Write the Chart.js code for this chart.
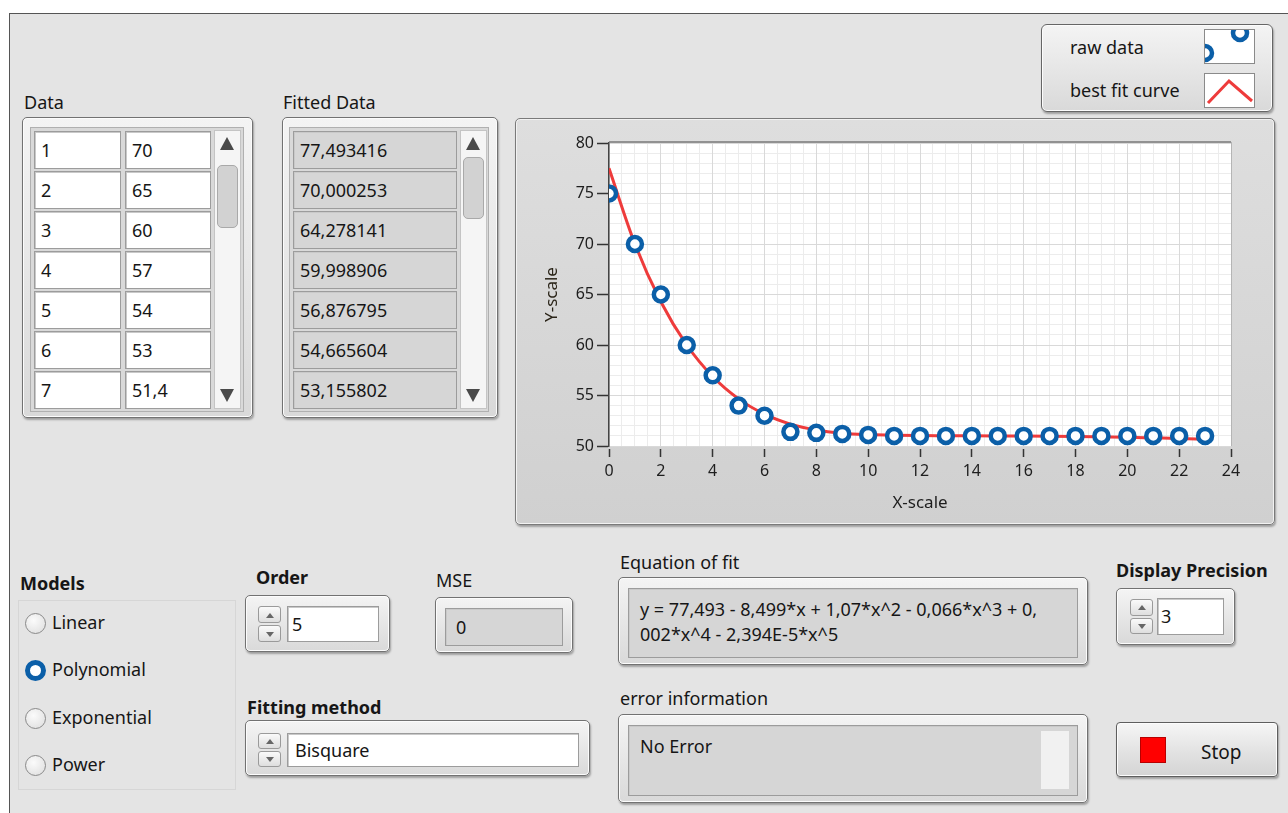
<!DOCTYPE html>
<html>
<head>
<meta charset="utf-8">
<script src="https://cdn.jsdelivr.net/npm/chart.js@4.4.1/dist/chart.umd.min.js"></script>
<style>
html, body { margin: 0; padding: 0; background: #fff; }
body { width: 1288px; height: 813px; overflow: hidden; position: relative; font-family: 'Noto Sans', 'Open Sans', sans-serif; font-size: 18px; color: #161616; }
#panel { position: absolute; left: 9px; top: 13px; width: 1290px; height: 810px; background: #e4e4e4; border-top: 1px solid #555; border-left: 1px solid #555; }
.lbl { position: absolute; white-space: nowrap; line-height: 20px; }
.b { font-weight: bold; }
.frame { position: absolute; box-sizing: border-box; border: 1px solid #727272; border-radius: 5px; background: linear-gradient(#f4f4f4, #d9d9d9); box-shadow: 1px 2px 2px rgba(0,0,0,.3), inset 0 0 0 1px #fcfcfc; }
.field { position: absolute; box-sizing: border-box; background: #fff; border: 1px solid #9c9c9c; box-shadow: inset 1px 1px 0 #c9c9c9; padding-left: 6px; white-space: nowrap; }
.gray { background: #d6d6d6; }
.scroll { position: absolute; box-sizing: border-box; background: #f5f5f5; border: 1px solid #c4c4c4; }
.thumb { position: absolute; box-sizing: border-box; background: #d2d2d2; border: 1px solid #a9a9a9; border-radius: 5px; }
.tri { position: absolute; width: 0; height: 0; }
.spin { position: absolute; box-sizing: border-box; }
.spin div { position: absolute; left: 0; width: 100%; box-sizing: border-box; border: 1px solid #9a9a9a; border-radius: 3px; background: linear-gradient(#fafafa, #dedede); }
.radio { position: absolute; width: 21px; height: 21px; border-radius: 50%; box-sizing: border-box; border: 1px solid #8a8a8a; background: radial-gradient(circle at 40% 35%, #fbfbfb, #dcdcdc); }
.radio.on { border: 5.5px solid #0b5fa8; background: #fff; }
#graph { position: absolute; left: 515px; top: 118px; width: 760px; height: 407px; box-sizing: border-box; border: 1px solid #7a7a7a; border-radius: 5px; background: linear-gradient(#dedede, #d0d0d0); box-shadow: 1px 2px 2px rgba(0,0,0,.3), inset 0 0 0 1px #f2f2f2; }
#wrap { position: absolute; left: 520px; top: 123px; width: 750px; height: 398px; }
</style>
</head>
<body>
<div id="panel"></div>
<div id="ui"></div>
<div id="graph"></div>
<div id="wrap"><canvas id="fit"></canvas></div>

<script>
// valores del gráfico
const xValues = [0, 1, 2, 3, 4, 5, 6, 7, 8, 9, 10, 11, 12, 13, 14, 15, 16, 17, 18, 19, 20, 21, 22, 23];
const rawY = [75, 70, 65, 60, 57, 54, 53, 51.4, 51.3, 51.2, 51.1, 51, 51, 51, 51, 51, 51, 51, 51, 51, 51, 51, 51, 51];
const fitY = [77.493416, 70.000253, 64.278141, 59.998906, 56.876795, 54.665604, 53.155802, 52.17, 51.58, 51.27, 51.13, 51.06, 51.03, 51.02, 51.01, 51.0, 50.99, 50.97, 50.94, 50.9, 50.86, 50.8, 50.74, 50.66];
const xRange = [0, 24];
const yRange = [50, 80];
const xStep = 2;
const yStep = 5;

const modelNames = ['Linear', 'Polynomial', 'Exponential', 'Power'];
const selectedModel = 'Polynomial';
const equationLines = ['y = 77,493 - 8,499*x + 1,07*x^2 - 0,066*x^3 + 0,', '002*x^4 - 2,394E-5*x^5'];

const FONT = "'Noto Sans', 'Open Sans', sans-serif";
let ui = document.getElementById('ui');

function el(cls, l, t, w, h, txt, extra) {
    let d = document.createElement('div');
    d.className = cls;
    d.style.left = l + 'px';
    d.style.top = t + 'px';
    if (w != null) d.style.width = w + 'px';
    if (h != null) { d.style.height = h + 'px'; d.style.lineHeight = (h - 2) + 'px'; }
    if (txt != null) d.textContent = txt;
    if (extra) Object.assign(d.style, extra);
    ui.appendChild(d);
    return d;
}

function triangle(cx, cy, w, h, up, color) {
    let t = el('tri', cx - w / 2, cy - h / 2);
    t.style.borderLeft = (w / 2) + 'px solid transparent';
    t.style.borderRight = (w / 2) + 'px solid transparent';
    if (up) t.style.borderBottom = h + 'px solid ' + color;
    else t.style.borderTop = h + 'px solid ' + color;
}

function spinner(l, t, w, h) {
    let s = el('spin', l, t, w, h);
    s.style.lineHeight = 'normal';
    let half = h / 2;
    let a = document.createElement('div'); a.style.top = '0px'; a.style.height = (half - 1) + 'px';
    let b = document.createElement('div'); b.style.top = (half + 1) + 'px'; b.style.height = (half - 1) + 'px';
    s.appendChild(a); s.appendChild(b);
    triangle(l + w / 2, t + half / 2, 8, 5, true, '#666');
    triangle(l + w / 2, t + half + half / 2 + 1, 8, 5, false, '#666');
}

function scrollbar(l, t, w, h, thumbTop, thumbH) {
    el('scroll', l, t, w, h);
    triangle(l + w / 2, t + 13, 15, 13, true, '#4a4a4a');
    triangle(l + w / 2, t + h - 14, 15, 13, false, '#4a4a4a');
    el('thumb', l + 3, thumbTop, w - 6, thumbH);
}

// --- tabla Data ---
el('lbl', 24, 92, null, null, 'Data');
el('frame', 22, 117, 231, 301);
el('abs', 30, 127, 214, 285, null, { position: 'absolute', background: '#d9d9d9', border: '1px solid #b0b0b0', boxSizing: 'border-box' });
for (let i = 0; i < 7; i++) {
    let top = 131 + 40 * i;
    el('field', 34, top, 87, 38, String(xValues[i + 1]));
    el('field', 125, top, 86, 38, String(rawY[i + 1]).replace('.', ','));
}
scrollbar(214, 130, 27, 279, 165, 63);

// --- tabla Fitted Data ---
el('lbl', 283, 92, null, null, 'Fitted Data');
el('frame', 282, 117, 216, 301);
el('abs', 289, 127, 200, 285, null, { position: 'absolute', background: '#d9d9d9', border: '1px solid #b0b0b0', boxSizing: 'border-box' });
for (let i = 0; i < 7; i++) {
    el('field gray', 293, 131 + 40 * i, 164, 38, fitY[i].toFixed(6).replace('.', ','));
}
scrollbar(460, 130, 27, 279, 157, 62);

// --- leyenda ---
el('frame', 1041, 24, 232, 88, null, { borderRadius: '6px', borderColor: '#666' });
el('lbl', 1070, 37, null, null, 'raw data');
el('lbl', 1070, 80, null, null, 'best fit curve');
let leg = el('abs', 1204, 29, 51, 80, null, { position: 'absolute' });
leg.innerHTML =
    '<svg width="51" height="80" viewBox="0 0 51 80">' +
    '<defs><clipPath id="c1"><rect x="1" y="1" width="49" height="33"/></clipPath></defs>' +
    '<rect x="0.5" y="0.5" width="50" height="34" fill="#fff" stroke="#8a8a8a"/>' +
    '<g clip-path="url(#c1)" fill="none" stroke="#0b5fa8" stroke-width="4.5">' +
    '<circle cx="1" cy="24" r="7"/><circle cx="36" cy="4" r="7"/></g>' +
    '<rect x="0.5" y="44.5" width="50" height="34" fill="#fff" stroke="#8a8a8a"/>' +
    '<polyline points="4,74 25,52 48,72" fill="none" stroke="#ee3b3b" stroke-width="3"/>' +
    '</svg>';

// --- Models ---
el('lbl', 20, 573, null, null, 'Models').classList.add('b');
el('abs', 18, 600, 218, 190, null, { position: 'absolute', border: '1px solid #d6d6d6', boxSizing: 'border-box' });
let radioY = [623, 670, 718, 765];
modelNames.forEach(function (m, i) {
    el('radio' + (m === selectedModel ? ' on' : ''), 25, radioY[i] - 10, 21, 21).style.lineHeight = 'normal';
    el('lbl', 52, radioY[i] - 11, null, null, m);
});

// --- Order ---
el('lbl', 256, 567, null, null, 'Order').classList.add('b');
el('frame', 245, 595, 145, 57);
spinner(258, 606, 23, 36);
el('field', 287, 606, 92, 36, '5', { paddingLeft: '4px' });

// --- MSE ---
el('lbl', 436, 570, null, null, 'MSE');
el('frame', 435, 597, 138, 56);
el('field gray', 445, 608, 118, 38, '0', { paddingLeft: '10px' });

// --- Fitting method ---
el('lbl', 247, 697, null, null, 'Fitting method').classList.add('b');
el('frame', 245, 720, 345, 56);
spinner(258, 733, 23, 34);
el('field', 287, 733, 292, 34, 'Bisquare', { paddingLeft: '7px' });

// --- Equation of fit ---
el('lbl', 620, 552, null, null, 'Equation of fit');
el('frame', 618, 577, 470, 88);
let eq = el('field gray', 628, 588, 450, 70, null, { lineHeight: '25px', paddingLeft: '11px', paddingTop: '8px' });
eq.innerHTML = equationLines.join('<br>');

// --- error information ---
el('lbl', 620, 688, null, null, 'error information');
el('frame', 618, 714, 470, 89);
el('field gray', 628, 725, 450, 71, 'No Error', { lineHeight: '22px', paddingLeft: '11px', paddingTop: '9px' });
el('abs', 1041, 731, 28, 58, null, { position: 'absolute', background: '#f1f1f1' });

// --- Display Precision ---
el('lbl', 1116, 560, null, null, 'Display Precision').classList.add('b');
el('frame', 1116, 588, 119, 57);
spinner(1130, 599, 23, 35);
el('field', 1157, 598, 67, 37, '3', { paddingLeft: '3px' });

// --- Stop ---
el('frame', 1116, 722, 162, 55, null, { borderColor: '#5e5e5e', borderRadius: '4px', background: 'linear-gradient(#f6f6f6, #e2e2e2 55%, #d4d4d4)' });
el('abs', 1140, 737, 26, 26, null, { position: 'absolute', background: '#ff0000', border: '1px solid #b80000', boxSizing: 'border-box' });
el('lbl', 1201, 742, null, null, 'Stop', { fontSize: '19px' });

// --- gráfico ---
const plotFrame = {
    id: 'plotFrame',
    beforeDraw(chart) {
        const a = chart.chartArea, ctx = chart.ctx;
        ctx.save();
        ctx.fillStyle = '#ffffff';
        ctx.fillRect(a.left, a.top, a.right - a.left, a.bottom - a.top);
        ctx.restore();
    },
    afterDraw(chart) {
        const a = chart.chartArea, ctx = chart.ctx;
        ctx.save();
        ctx.strokeStyle = '#777';
        ctx.lineWidth = 1.5;
        ctx.beginPath();
        ctx.moveTo(a.left, a.top - 1);
        ctx.lineTo(a.right, a.top - 1);
        ctx.stroke();
        ctx.strokeStyle = '#b5b5b5';
        ctx.lineWidth = 1;
        ctx.beginPath();
        ctx.moveTo(a.right + 0.5, a.top - 1);
        ctx.lineTo(a.right + 0.5, a.bottom);
        ctx.stroke();
        ctx.restore();
    }
};

let rawPoints = xValues.map((x, i) => ({ x: x, y: rawY[i] }));
let fitPoints = xValues.map((x, i) => ({ x: x, y: fitY[i] }));

new Chart(document.getElementById('fit'), {
    type: 'scatter',
    data: {
        datasets: [
            {
                label: 'raw data',
                data: rawPoints,
                showLine: false,
                pointRadius: 7,
                pointHoverRadius: 7,
                pointBorderWidth: 4.5,
                pointBorderColor: '#0b5fa8',
                pointBackgroundColor: '#ffffff',
                clip: 0,
                order: 0
            },
            {
                label: 'best fit curve',
                data: fitPoints,
                showLine: true,
                borderColor: '#ee3b3b',
                borderWidth: 3,
                pointRadius: 0,
                cubicInterpolationMode: 'monotone',
                clip: 0,
                order: 1
            }
        ]
    },
    options: {
        responsive: true,
        maintainAspectRatio: false,
        animation: false,
        layout: { padding: { left: 0, top: 20, right: 39, bottom: 0 } },
        plugins: { legend: { display: false }, tooltip: { enabled: false } },
        scales: {
            x: {
                type: 'linear',
                position: 'bottom',
                min: xRange[0],
                max: xRange[1],
                ticks: { stepSize: xStep, color: '#1e1e1e', font: { family: FONT, size: 16 }, padding: 5, maxRotation: 0 },
                grid: { color: '#d9d9d9', z: -1, tickColor: '#333', tickLength: 11, tickWidth: 1.5, tickBorderDash: [0, 3, 8] },
                border: { display: false },
                title: { display: true, text: 'X-scale', color: '#1e1e1e', font: { family: FONT, size: 17 }, padding: { top: 0, bottom: 8 } },
                afterFit: function (s) { s.height = 75; }
            },
            xMinor: {
                type: 'linear',
                position: 'bottom',
                min: xRange[0],
                max: xRange[1],
                ticks: { display: false, stepSize: xStep / 4 },
                grid: { color: '#ececec', z: -2, drawTicks: false },
                border: { display: false },
                afterFit: function (s) { s.height = 0; }
            },
            y: {
                type: 'linear',
                position: 'left',
                min: yRange[0],
                max: yRange[1],
                ticks: { stepSize: yStep, color: '#1e1e1e', font: { family: FONT, size: 16 }, padding: 3 },
                grid: { color: '#d9d9d9', z: -1, tickColor: '#333', tickLength: 12, tickWidth: 1.5 },
                border: { display: true, color: '#444', width: 1.5 },
                title: { display: true, text: 'Y-scale', color: '#2a2418', font: { family: FONT, size: 17 }, padding: { top: 22, bottom: 0 } },
                afterFit: function (s) { s.width = 89; }
            },
            yMinor: {
                type: 'linear',
                position: 'left',
                min: yRange[0],
                max: yRange[1],
                ticks: { display: false, stepSize: yStep / 5 },
                grid: { color: '#ececec', z: -2, drawTicks: false },
                border: { display: false },
                afterFit: function (s) { s.width = 0; }
            }
        }
    },
    plugins: [plotFrame]
});
</script>
</body>
</html>
